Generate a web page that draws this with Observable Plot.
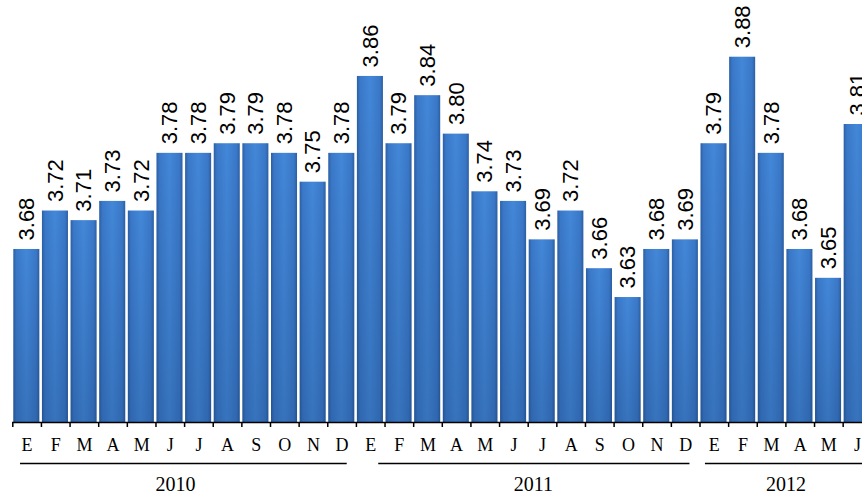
<!DOCTYPE html>
<html><head><meta charset="utf-8">
<script src="https://cdn.jsdelivr.net/npm/d3@7"></script>
<script src="https://cdn.jsdelivr.net/npm/@observablehq/plot@0.6"></script>
<style>html,body{margin:0;padding:0;background:#fff;overflow:hidden}svg{overflow:hidden}</style>
</head><body><div id="chart"></div>
<script>
// ---- data ----
const months = ["E","F","M","A","M","J","J","A","S","O","N","D",
                "E","F","M","A","M","J","J","A","S","O","N","D",
                "E","F","M","A","M","J"];
const values = [3.68,3.72,3.71,3.73,3.72,3.78,3.78,3.79,3.79,3.78,3.75,3.78,
                3.86,3.79,3.84,3.80,3.74,3.73,3.69,3.72,3.66,3.63,3.68,3.69,
                3.79,3.88,3.78,3.68,3.65,3.81];
const years = ["2010","2011","2012"];
const monthsPerYear = [12,12,6];
// ---- style / layout helpers ----
const yearLineLead = [0.27, 0.78, 0.19];
const yearLineTrail = [0.32, 0.35, -0.2];
const yearLabelShift = [-0.32, 0.18, 0];
const yBase = 3.5, yTop = 3.939;

const data = values.map((v, i) => ({i, value: v, month: months[i], label: v.toFixed(2)}));
let start = 0;
const groups = years.map((y, k) => {
  const g = {year: y, start, end: start + monthsPerYear[k], k};
  start += monthsPerYear[k];
  return g;
});
const ticks = d3.range(values.length + 1);

const barGeom = {x1: d => d.i, x2: d => d.i + 1, y1: d => yBase, y2: "value", insetLeft: 1, insetRight: 1.6};

const chart = Plot.plot({
  width: 862, height: 494,
  marginLeft: 12, marginRight: 0, marginTop: 0, marginBottom: 0,
  x: {type: "linear", domain: [0, values.length], range: [12.3, 871.3], axis: null},
  y: {type: "linear", domain: [yBase, yTop], range: [422, 0], axis: null},
  style: {background: "#fff"},
  marks: [
    Plot.rect(data, {...barGeom, fill: "url(#barGrad)"}),
    Plot.rect(data, {...barGeom, fill: "url(#shadeGrad)"}),
    Plot.ruleY(data, {x1: d => d.i, x2: d => d.i + 1, y: "value", insetLeft: 2.5, insetRight: 3,
      dy: 1.5, stroke: "url(#bevelGrad)", strokeWidth: 3}),
    Plot.ruleY([yBase], {stroke: "#000", strokeWidth: 1.5}),
    Plot.ruleX(ticks, {x: d => d, y1: d => yBase, y2: d => yBase, insetBottom: -5, stroke: "#000", strokeWidth: 1.5}),
    Plot.text(data, {x: d => d.i + 0.5, y: "value", text: "label", rotate: -90, textAnchor: "start",
      dy: -9, fontSize: 22, fontFamily: "'Liberation Sans Narrow', 'Liberation Sans', sans-serif", fill: "#000"}),
    Plot.text(data, {x: d => d.i + 0.5, y: d => yBase, text: "month", dy: 28, lineAnchor: "bottom",
      fontSize: 18, fontFamily: "'Liberation Serif', serif", fill: "#000"}),
    Plot.ruleY(groups, {x1: g => g.start + yearLineLead[g.k], x2: g => g.end - yearLineTrail[g.k],
      y: d => yBase, dy: 41, stroke: "#000", strokeWidth: 1.6}),
    Plot.text(groups, {x: g => (g.start + g.end) / 2 + yearLabelShift[g.k], y: d => yBase, text: "year",
      dy: 68, lineAnchor: "bottom", fontSize: 20, fontFamily: "'Liberation Serif', serif", fill: "#000"})
  ]
});

d3.select(chart).insert("defs", ":first-child").html(`
  <linearGradient id="barGrad" x1="0" x2="1" y1="0" y2="0">
    <stop offset="0" stop-color="#2c5fa3"/>
    <stop offset="0.12" stop-color="#3a78c8"/>
    <stop offset="0.5" stop-color="#4387d8"/>
    <stop offset="0.88" stop-color="#3a78c8"/>
    <stop offset="1" stop-color="#2c5fa3"/>
  </linearGradient>
  <linearGradient id="shadeGrad" x1="0" x2="0" y1="0" y2="1">
    <stop offset="0" stop-color="#001a40" stop-opacity="0"/>
    <stop offset="1" stop-color="#001a40" stop-opacity="0.18"/>
  </linearGradient>
  <linearGradient id="bevelGrad" x1="0" x2="1" y1="0" y2="0">
    <stop offset="0" stop-color="#5c9ae3"/>
    <stop offset="0.5" stop-color="#7fb4f0"/>
    <stop offset="1" stop-color="#5c9ae3"/>
  </linearGradient>`);
document.getElementById("chart").appendChild(chart);
</script>
</body></html>
